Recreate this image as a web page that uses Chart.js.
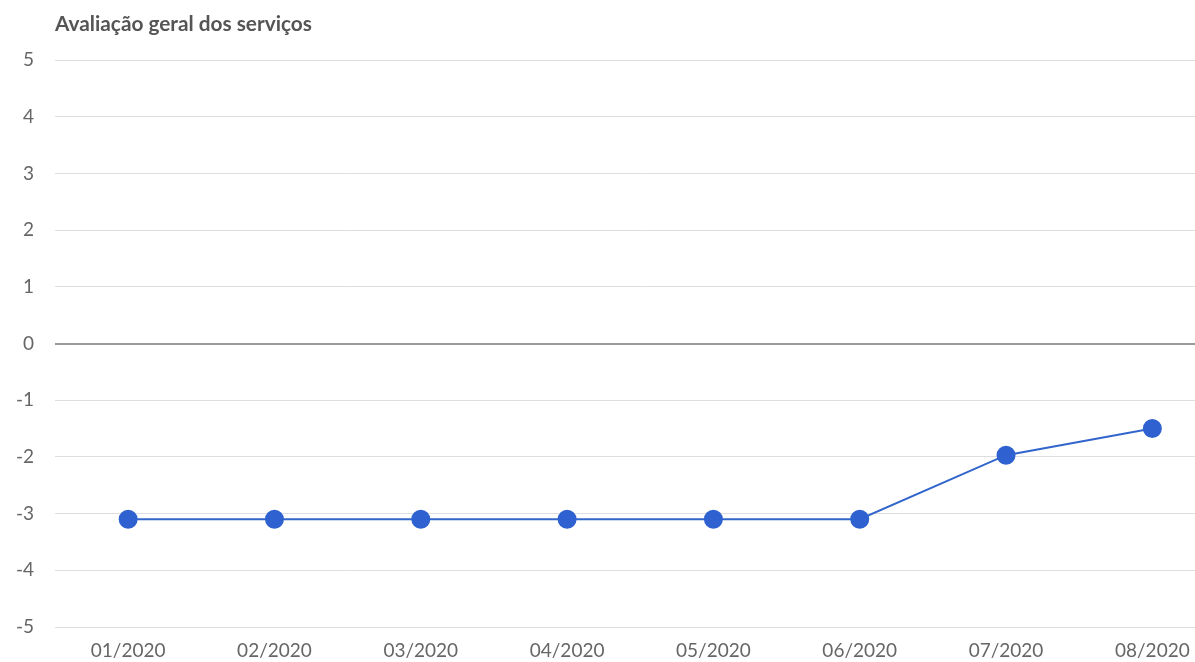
<!DOCTYPE html>
<html>
<head>
<meta charset="utf-8">
<script src="https://cdn.jsdelivr.net/npm/chart.js@4.4.0/dist/chart.umd.min.js"></script>
<style>
html,body{margin:0;padding:0;overflow:hidden;background:#fff;}
#wrap{width:1236px;height:662px;position:relative;}
</style>
</head>
<body>
<div id="wrap"><canvas id="c"></canvas></div>
<script>
const categories = ['01/2020','02/2020','03/2020','04/2020','05/2020','06/2020','07/2020','08/2020'];
const values = [-3.1, -3.1, -3.1, -3.1, -3.1, -3.1, -1.97, -1.5];
const yTicks = [-5,-4,-3,-2,-1,0,1,2,3,4,5];
const titleText = 'Avaliação geral dos serviços';

const titlePlugin = {
  id: 'leftTitle',
  afterDraw(chart){
    const ctx = chart.ctx;
    ctx.save();
    ctx.font = 'bold 20.8px Lato';
    ctx.fillStyle = '#555';
    ctx.textBaseline = 'middle';
    ctx.textAlign = 'left';
    ctx.fillText(titleText, chart.chartArea.left, 24);
    ctx.restore();
  }
};

new Chart(document.getElementById('c'), {
  type: 'line',
  data: {
    labels: categories,
    datasets: [{
      data: values,
      borderColor: '#3366cc',
      backgroundColor: '#2f62d0',
      pointBackgroundColor: '#2f62d0',
      pointBorderColor: '#2f62d0',
      borderWidth: 2,
      pointRadius: 8.5,
      pointHoverRadius: 8.5,
      tension: 0,
      fill: false
    }]
  },
  options: {
    responsive: true,
    maintainAspectRatio: false,
    animation: false,
    layout: { padding: { top: 60, left: 0, right: 0, bottom: 0 } },
    plugins: { legend: { display: false }, tooltip: { enabled: false }, title: { display: false } },
    scales: {
      x: {
        offset: true,
        grid: { display: false, drawTicks: false },
        border: { display: false },
        ticks: { color: '#666', font: { family: 'Lato', size: 19 }, padding: 12, maxRotation: 0 },
        afterFit(s){ s.height = 35; }
      },
      y: {
        min: -5, max: 5,
        afterBuildTicks(s){ s.ticks = yTicks.map(v => ({value: v})); },
        grid: {
          drawTicks: false,
          color: c => (c.tick && c.tick.value === 0) ? '#9a9a9a' : '#dedede',
          lineWidth: c => (c.tick && c.tick.value === 0) ? 2 : 1
        },
        border: { display: false },
        ticks: { color: '#666', font: { family: 'Lato', size: 19 }, padding: 21 },
        afterFit(s){ s.width = 55; }
      }
    }
  },
  plugins: [titlePlugin]
});
</script>
</body>
</html>
